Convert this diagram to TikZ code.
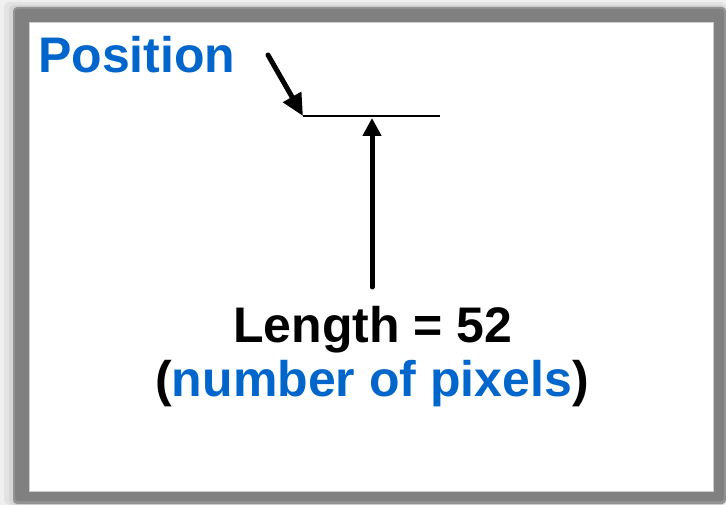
\documentclass[tikz,border=0pt]{standalone}
\usepackage{fontspec}
\setmainfont{Liberation Sans}
\usetikzlibrary{arrows.meta}
\definecolor{labelblue}{RGB}{0,102,204}
\definecolor{framegray}{RGB}{128,128,128}
\tikzset{
	biglabel/.style={inner sep=0pt, font=\fontsize{50}{58}\selectfont\bfseries},
	pointer/.style={line width=5pt, line cap=round, -{Triangle[length=22pt,width=20pt]}}
}
\begin{document}
\begin{tikzpicture}[x=1pt,y=-1pt]
	\useasboundingbox (0,0) rectangle (726,505);
	% shadow and frame
	\fill [gray!12] (0,0) rectangle (726,505);
	\fill [gray!22, rounded corners=6] (4,2) rectangle (726,505);
	\fill [gray!32, rounded corners=5] (9,5) rectangle (726,505);
	\fill [framegray!85!white, rounded corners=4] (13,7) rectangle (726,504);
	\fill [framegray, rounded corners=3] (15,9) rectangle (724,501);
	\fill [white] (29,22) rectangle (713,491);
	\draw [gray!40, line width=0.6pt] (29,22) rectangle (713,491);
	
	\node [biglabel, labelblue, anchor=base west] (position) at (38,73) {Position};
	
	\coordinate (segstart) at (303,116);
	\coordinate (segend) at (440,116);
	\coordinate (segmid) at (372,118);
	\coordinate (postail) at (268,55);
	\draw [line width=2pt] (segstart) -- (segend);
	\draw [pointer] (postail) -- (segstart);
	
	\node [biglabel, anchor=base] (length) at (373,342) {Length = 52};
	\node [biglabel, anchor=base] (pixels) at (372,396) {(\textcolor{labelblue}{number of pixels})};
	\coordinate (lentail) at (372,287);
	\draw [pointer, -{Triangle[length=18pt,width=18pt]}] (lentail) -- (segmid);
\end{tikzpicture}
\end{document}
